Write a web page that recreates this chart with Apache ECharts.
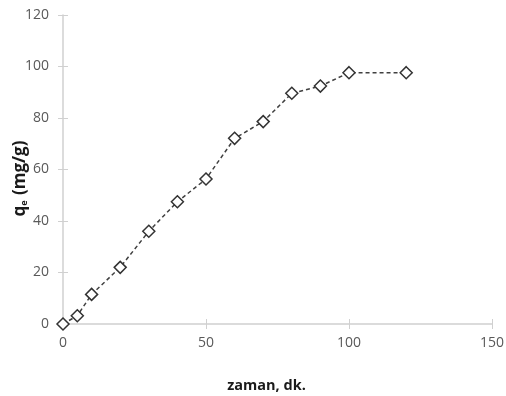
<!DOCTYPE html>
<html>
<head>
<meta charset="utf-8">
<script src="https://cdn.jsdelivr.net/npm/echarts@6/dist/echarts.min.js"></script>
<style>
  html, body { margin: 0; padding: 0; background: #fff; }
  #chart { width: 506px; height: 396px; }
</style>
</head>
<body>
<div id="chart"></div>
<script>
// zaman (dk.) ve q_e (mg/g) değerleri
const zaman = [0, 5, 10, 20, 30, 40, 50, 60, 70, 80, 90, 100, 120];
const qe = [0, 3.2, 11.5, 22, 36, 47.5, 56.3, 72.1, 78.6, 89.6, 92.4, 97.6, 97.6];

const xTicks = { min: 0, max: 150, interval: 50 };
const yTicks = { min: 0, max: 120, interval: 20 };

const chart = echarts.init(document.getElementById('chart'));

const axisGrey = '#d0d0d0';
const labelGrey = '#595959';
const font = 'Open Sans';

// ikinci eksen sadece "çapraz" tik işaretleri için (içeri doğru yarısı)
const innerTicks = (t) => ({
    type: 'value', min: t.min, max: t.max, interval: t.interval,
    axisLine: { show: false },
    axisTick: { show: true, inside: true, length: 5, lineStyle: { color: axisGrey } },
    axisLabel: { show: false },
    splitLine: { show: false }
});

chart.setOption({
    animation: false,
    grid: { left: 63, right: 14, top: 15, bottom: 72, outerBoundsMode: 'none', containLabel: false },
    xAxis: [{
        type: 'value',
        min: xTicks.min, max: xTicks.max, interval: xTicks.interval,
        name: 'zaman, dk.',
        nameLocation: 'middle',
        nameGap: 54,
        nameMoveOverlap: false,
        nameTextStyle: { fontFamily: font, fontWeight: 'bold', fontSize: 14.5, color: '#1a1a1a', padding: [0, 22, 0, 0] },
        axisLine: { lineStyle: { color: axisGrey, width: 1.5 } },
        axisTick: { show: true, inside: false, length: 5, lineStyle: { color: axisGrey } },
        axisLabel: { fontFamily: font, fontSize: 14, color: labelGrey, margin: 12 },
        splitLine: { show: false }
    }, Object.assign(innerTicks(xTicks), { position: 'bottom' })],
    yAxis: [{
        type: 'value',
        min: yTicks.min, max: yTicks.max, interval: yTicks.interval,
        name: '{q|q}{sub|e}{q| (mg/g)}',
        nameLocation: 'middle',
        nameGap: 34,
        nameMoveOverlap: false,
        nameTextStyle: {
            padding: [0, 0, 0, -18],
            rich: {
                q: { fontFamily: font, fontWeight: 'bold', fontSize: 17, color: '#1a1a1a' },
                sub: { fontFamily: font, fontWeight: 'bold', fontSize: 9, color: '#1a1a1a', verticalAlign: 'bottom', padding: [8, 1, 0, 0] }
            }
        },
        axisLine: { show: true, lineStyle: { color: axisGrey, width: 1.5 } },
        axisTick: { show: true, inside: false, length: 5, lineStyle: { color: axisGrey } },
        axisLabel: { fontFamily: font, fontSize: 14, color: labelGrey, margin: 14 },
        splitLine: { show: false }
    }, Object.assign(innerTicks(yTicks), { position: 'left' })],
    series: [{
        type: 'line',
        xAxisIndex: 0,
        yAxisIndex: 0,
        data: zaman.map((x, i) => [x, qe[i]]),
        symbol: 'diamond',
        symbolSize: 12,
        showAllSymbol: true,
        lineStyle: { color: '#404040', width: 1.5, type: [4, 3] },
        itemStyle: { color: '#fff', borderColor: '#333', borderWidth: 1.5 }
    }]
});
</script>
</body>
</html>
